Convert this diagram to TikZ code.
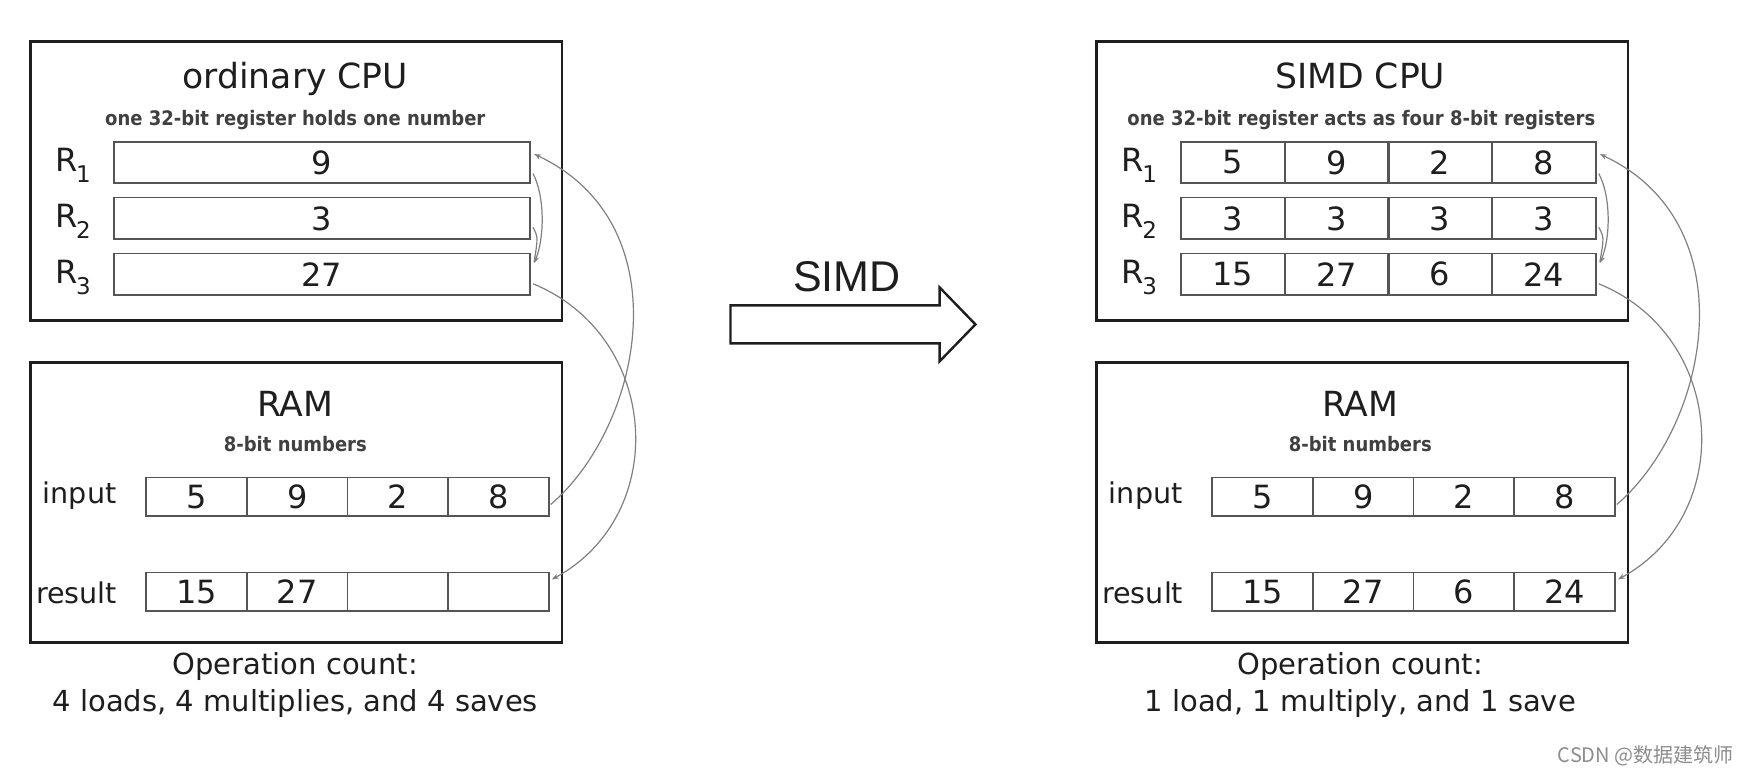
\documentclass[tikz,border=0pt]{standalone}
\usepackage{fontspec}
\setmainfont{DejaVu Sans}
\newfontfamily\simdfont{Liberation Sans}
\newfontfamily\subfont{DejaVu Sans}[FakeStretch=0.9]
\newfontfamily\cjkfont{Noto Sans CJK SC}
\usetikzlibrary{arrows.meta,calc}
\definecolor{ink}{HTML}{1E1E1E}
\definecolor{cellline}{HTML}{555555}
\definecolor{wire}{HTML}{808080}
\newcommand\Rsub[1]{R\kern-0.6pt\raisebox{-0.6ex}{\fontsize{11.5}{12}\selectfont #1}}
\begin{document}
\begin{tikzpicture}[x=0.5593pt,y=-0.5593pt,
  outer/.style={draw=ink, line width=1.4pt, anchor=north west, inner sep=0pt,
    minimum width=265.7pt, minimum height=139.3pt},
  reg/.style={draw=cellline, line width=0.8pt, anchor=north west, inner sep=0pt,
    minimum width=208.1pt, minimum height=20.7pt, font=\fontsize{16}{18}\selectfont, text=ink},
  rcell/.style={reg, minimum width=51.9pt},
  mcell/.style={reg, minimum width=50.3pt, minimum height=19.3pt},
  title/.style={anchor=base, font=\fontsize{17.3}{20}\selectfont, text=ink},
  subt/.style={anchor=base, font=\subfont\bfseries\fontsize{10}{12}\selectfont, text=ink!85},
  lab/.style={anchor=base west, font=\fontsize{16}{18}\selectfont, text=ink, inner sep=0pt},
  mlab/.style={anchor=base west, font=\fontsize{14.3}{16}\selectfont, text=ink, inner sep=0pt},
  opc/.style={anchor=base, font=\fontsize{14.5}{17}\selectfont, text=ink},
  conn/.style={draw=wire, line width=0.6pt, -{Stealth[length=3.5pt,width=2.6pt]}}
]
\useasboundingbox (0,0) rectangle (1568,694);

% ================= LEFT: ordinary CPU =================
\node[outer] (cpuL) at (26,36) {};
\node[title] (cpuLt) at (264,79) {ordinary CPU};
\node[subt] (cpuLs) at (264,112.6) {one 32-bit register holds one number};
\node[lab] (lL1) at (49,153.5) {\Rsub{1}};
\node[lab] (lL2) at (49,203.5) {\Rsub{2}};
\node[lab] (lL3) at (49,253.5) {\Rsub{3}};
\node[reg] (regL1) at (101,126) {9};
\node[reg] (regL2) at (101,176) {3};
\node[reg] (regL3) at (101,226) {27};

\node[outer, minimum height=139.8pt] (ramL) at (26,323) {};
\node[title] (ramLt) at (264,372) {RAM};
\node[subt] (ramLs) at (264,403.8) {8-bit numbers};
\node[mlab] (inLl) at (38,450) {input};
\node[mlab] (resLl) at (32,539.4) {result};
\node[mcell] (inL1) at (130,426) {5};
\node[mcell] (inL2) at (220,426) {9};
\node[mcell] (inL3) at (310,426) {2};
\node[mcell] (inL4) at (400,426) {8};
\node[mcell] (resL1) at (130,511) {15};
\node[mcell] (resL2) at (220,511) {27};
\node[mcell] (resL3) at (310,511) {};
\node[mcell] (resL4) at (400,511) {};
\node[opc] (opL1) at (264,603.4) {Operation count:};
\node[opc] (opL2) at (264,636.2) {4 loads, 4 multiplies, and 4 saves};

% connectors left
\draw[conn] ($(inL4.east)+(1,7)$) .. controls (575,380) and (610,200) .. ($(regL1.east)+(3,-7.5)$);
\draw[conn] ($(regL1.east)+(2,10)$) .. controls (487,175) and (487,212) .. ($(regL3.east)+(3,-10)$);
\draw[draw=wire, line width=0.6pt] ($(regL2.east)+(2,8)$) .. controls (481,212) .. ($(regL3.east)+(3,-11)$);
\draw[conn] ($(regL3.east)+(2,8.5)$) .. controls (590,300) and (600,460) .. ($(resL4.east)+(2,-11)$);

% ================= MIDDLE ARROW =================
\draw[draw=ink, line width=1.2pt, line join=miter]
  (653,273) -- (840,273) -- (840,257) -- (872,290) -- (840,323) -- (840,307) -- (653,307) -- cycle;
\node[anchor=base, font=\simdfont\fontsize{21.5}{24}\selectfont, text=ink] (simd) at (757,260.8) {SIMD};

% ================= RIGHT: SIMD CPU =================
\node[outer] (cpuR) at (979,36) {};
\node[title] (cpuRt) at (1216,79) {SIMD CPU};
\node[subt] (cpuRs) at (1217,112.6) {one 32-bit register acts as four 8-bit registers};
\node[lab] (lR1) at (1002,153.5) {\Rsub{1}};
\node[lab] (lR2) at (1002,203.5) {\Rsub{2}};
\node[lab] (lR3) at (1002,253.5) {\Rsub{3}};
\node[rcell] (rA1) at (1055,126) {5};
\node[rcell] (rA2) at (1148,126) {9};
\node[rcell] (rA3) at (1240,126) {2};
\node[rcell] (rA4) at (1333,126) {8};
\node[rcell] (rB1) at (1055,176) {3};
\node[rcell] (rB2) at (1148,176) {3};
\node[rcell] (rB3) at (1240,176) {3};
\node[rcell] (rB4) at (1333,176) {3};
\node[rcell] (rC1) at (1055,226) {15};
\node[rcell] (rC2) at (1148,226) {27};
\node[rcell] (rC3) at (1240,226) {6};
\node[rcell] (rC4) at (1333,226) {24};

\node[outer, minimum height=139.8pt] (ramR) at (979,323) {};
\node[title] (ramRt) at (1216,372) {RAM};
\node[subt] (ramRs) at (1216,403.8) {8-bit numbers};
\node[mlab] (inRl) at (991,450) {input};
\node[mlab] (resRl) at (985,539.4) {result};
\node[mcell] (inR1) at (1083,426) {5};
\node[mcell] (inR2) at (1173,426) {9};
\node[mcell] (inR3) at (1263,426) {2};
\node[mcell] (inR4) at (1353,426) {8};
\node[mcell] (resR1) at (1083,511) {15};
\node[mcell] (resR2) at (1173,511) {27};
\node[mcell] (resR3) at (1263,511) {6};
\node[mcell] (resR4) at (1353,511) {24};
\node[opc] (opR1) at (1216,603.4) {Operation count:};
\node[opc] (opR2) at (1216,636.2) {1 load, 1 multiply, and 1 save};

% connectors right
\draw[conn] ($(inR4.east)+(1,7)$) .. controls (1528,380) and (1563,200) .. ($(rA4.east)+(3,-7.5)$);
\draw[conn] ($(rA4.east)+(2,10)$) .. controls (1440,175) and (1440,212) .. ($(rC4.east)+(3,-10)$);
\draw[draw=wire, line width=0.6pt] ($(rB4.east)+(2,8)$) .. controls (1434,212) .. ($(rC4.east)+(3,-11)$);
\draw[conn] ($(rC4.east)+(2,8.5)$) .. controls (1543,300) and (1553,460) .. ($(resR4.east)+(2,-11)$);

% watermark
\node[anchor=base east, font=\cjkfont\fontsize{10}{12}\selectfont, text=black!45] (wm) at (1556,682) {CSDN @数据建筑师};
\end{tikzpicture}
\end{document}
